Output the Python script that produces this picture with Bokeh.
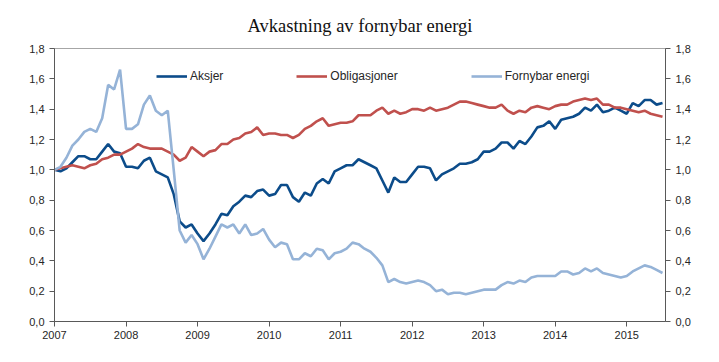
from bokeh.plotting import figure
from bokeh.models import (Range1d, LinearAxis, FixedTicker, CustomJSTickFormatter,
                          Legend, LegendItem, ColumnDataSource)
from bokeh.embed import file_html
from bokeh.resources import INLINE

title_text = "Avkastning av fornybar energi"
years = ["2007", "2008", "2009", "2010", "2011", "2012", "2013", "2014", "2015"]

aksjer = [1.00, 0.99, 1.01, 1.05, 1.09, 1.09, 1.07, 1.07, 1.12, 1.17, 1.12, 1.11, 1.02, 1.02, 1.01, 1.06, 1.08, 0.99,
          0.97, 0.95, 0.84, 0.66, 0.62, 0.64, 0.58, 0.53, 0.58, 0.64, 0.71, 0.70, 0.76, 0.79, 0.83, 0.82, 0.86,
          0.87, 0.83, 0.84, 0.90, 0.90, 0.82, 0.79, 0.85, 0.83, 0.91, 0.94, 0.91, 0.99, 1.01, 1.03, 1.03, 1.07,
          1.05, 1.03, 1.01, 0.93, 0.85, 0.95, 0.92, 0.92, 0.97, 1.02, 1.02, 1.01, 0.93, 0.97, 0.99, 1.01, 1.04,
          1.04, 1.05, 1.07, 1.12, 1.12, 1.14, 1.18, 1.18, 1.14, 1.19, 1.17, 1.22, 1.28, 1.29, 1.32, 1.27, 1.33, 1.34,
          1.35, 1.37, 1.41, 1.39, 1.43, 1.38, 1.39, 1.41, 1.39, 1.37, 1.44, 1.42, 1.46, 1.46, 1.43, 1.44]

obligasjoner = [1.00, 1.01, 1.02, 1.03, 1.02, 1.01, 1.03, 1.04, 1.07, 1.08, 1.10, 1.10, 1.12, 1.14, 1.17, 1.15, 1.14, 1.14,
                1.14, 1.12, 1.10, 1.06, 1.08, 1.15, 1.12, 1.09, 1.12, 1.13, 1.17, 1.17, 1.20, 1.21, 1.24, 1.25, 1.28,
                1.23, 1.24, 1.24, 1.23, 1.23, 1.21, 1.23, 1.27, 1.29, 1.32, 1.34, 1.29, 1.30, 1.31, 1.31, 1.32, 1.36,
                1.36, 1.36, 1.39, 1.41, 1.37, 1.39, 1.37, 1.38, 1.40, 1.40, 1.39, 1.41, 1.39, 1.40, 1.41, 1.43, 1.45,
                1.45, 1.44, 1.43, 1.42, 1.41, 1.41, 1.43, 1.39, 1.37, 1.39, 1.38, 1.41, 1.42, 1.41, 1.40, 1.42, 1.43, 1.43,
                1.45, 1.46, 1.47, 1.46, 1.47, 1.43, 1.43, 1.41, 1.41, 1.40, 1.39, 1.38, 1.39, 1.37, 1.36, 1.35]

fornybar = [1.00, 1.02, 1.08, 1.16, 1.20, 1.25, 1.27, 1.25, 1.34, 1.56, 1.53, 1.66, 1.27, 1.27, 1.30, 1.43, 1.49, 1.39,
            1.36, 1.39, 1.00, 0.60, 0.52, 0.57, 0.51, 0.41, 0.48, 0.56, 0.64, 0.62, 0.64, 0.58, 0.64, 0.57, 0.58,
            0.61, 0.54, 0.49, 0.52, 0.51, 0.41, 0.41, 0.45, 0.43, 0.48, 0.47, 0.41, 0.45, 0.46, 0.48, 0.52, 0.51,
            0.48, 0.46, 0.42, 0.37, 0.26, 0.28, 0.26, 0.25, 0.26, 0.27, 0.26, 0.24, 0.20, 0.21, 0.18, 0.19, 0.19,
            0.18, 0.19, 0.20, 0.21, 0.21, 0.21, 0.24, 0.26, 0.25, 0.27, 0.26, 0.29, 0.30, 0.30, 0.30, 0.30, 0.33, 0.33,
            0.31, 0.32, 0.35, 0.33, 0.35, 0.32, 0.31, 0.30, 0.29, 0.30, 0.33, 0.35, 0.37, 0.36, 0.34, 0.32]

months = list(range(len(aksjer)))
year_ticks = [12 * i for i in range(len(years))]

src = ColumnDataSource(dict(m=months, a=aksjer, o=obligasjoner, f=fornybar))

TXT = "#262626"
AX = "#595959"
SANS = "Liberation Sans"

p = figure(width=711, height=354, output_backend="svg", toolbar_location=None,
           x_range=Range1d(0, 102.5), y_range=Range1d(0, 1.8),
           min_border_left=54, min_border_right=46, min_border_top=47, min_border_bottom=33)

p.title.text = title_text
p.title.align = "center"
p.title.text_font = "Liberation Serif"
p.title.text_font_size = "18.5px"
p.title.text_font_style = "normal"
p.title.text_color = "#111111"
p.title.standoff = 26

p.xgrid.visible = False
p.ygrid.visible = False
p.outline_line_color = "#A6A6A6"
p.outline_line_width = 1
p.background_fill_color = "white"
p.border_fill_color = "white"

fmt = CustomJSTickFormatter(code="return tick.toFixed(1).replace('.', ',');")

yl = p.yaxis[0]
yl.ticker = FixedTicker(ticks=[0, 0.2, 0.4, 0.6, 0.8, 1.0, 1.2, 1.4, 1.6, 1.8])
yl.formatter = fmt

yr = LinearAxis(ticker=FixedTicker(ticks=[0, 0.2, 0.4, 0.6, 0.8, 1.0, 1.2, 1.4, 1.6, 1.8]), formatter=fmt)
p.add_layout(yr, "right")

xa = p.xaxis[0]
xa.ticker = FixedTicker(ticks=year_ticks)
xa.major_label_overrides = {t: y for t, y in zip(year_ticks, years)}

for ax in [yl, yr, xa]:
    ax.axis_line_color = AX
    ax.axis_line_width = 1
    ax.major_tick_line_color = AX
    ax.major_tick_out = 5
    ax.major_tick_in = 0
    ax.minor_tick_line_color = None
    ax.major_label_text_font = SANS
    ax.major_label_text_font_size = "11px"
    ax.major_label_text_color = TXT
    ax.major_label_standoff = 5
xa.major_label_standoff = 4

r1 = p.line("m", "a", source=src, line_color="#0C4C8A", line_width=2.6)
r2 = p.line("m", "o", source=src, line_color="#C0504D", line_width=2.6)
r3 = p.line("m", "f", source=src, line_color="#95B3D7", line_width=2.6)

legend = Legend(items=[LegendItem(label="Aksjer", renderers=[r1]),
                       LegendItem(label="Obligasjoner", renderers=[r2]),
                       LegendItem(label="Fornybar energi", renderers=[r3])],
                orientation="horizontal", location=(102, 235),
                glyph_width=31, glyph_height=20, label_standoff=3, spacing=73,
                padding=0, margin=0, border_line_alpha=0, background_fill_alpha=0,
                label_text_font=SANS, label_text_font_size="12px", label_text_color=TXT)
p.add_layout(legend)

open("out.html", "w").write(file_html(p, INLINE))
